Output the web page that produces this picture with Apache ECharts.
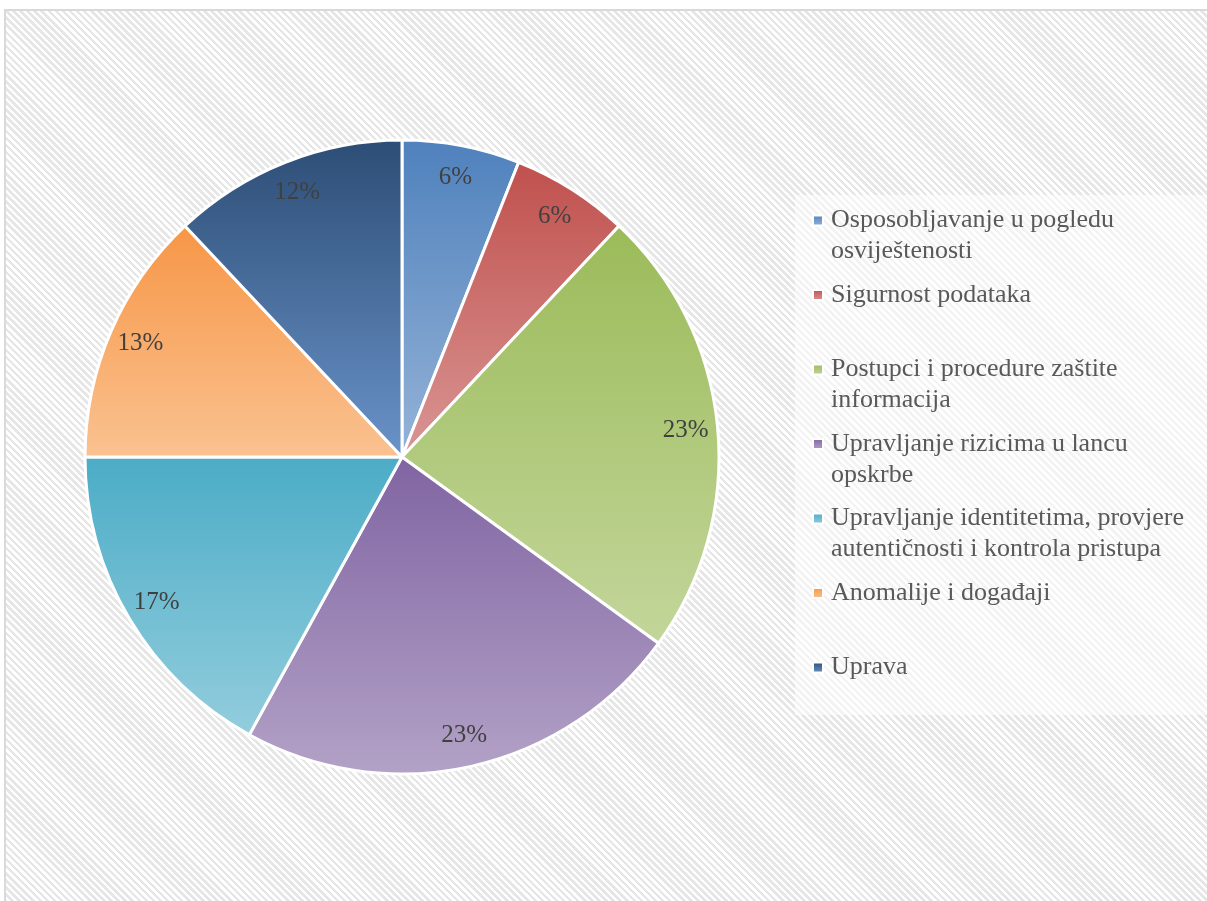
<!DOCTYPE html>
<html>
<head>
<meta charset="utf-8">
<script src="https://cdn.jsdelivr.net/npm/echarts@6/dist/echarts.min.js"></script>
<style>
    html, body { margin: 0; padding: 0; background: #fff; }
    #wrap { position: relative; width: 1207px; height: 901px; overflow: hidden; background: #fff; }
    #bg {
        position: absolute; left: 4px; top: 9px; width: 1220px; height: 910px;
        border-left: 2px solid #d9d9d9; border-top: 2px solid #d9d9d9;
        background: repeating-linear-gradient(45deg, #ffffff 0px, #ffffff 2.5px, #e6e6e6 2.5px, #e6e6e6 5px);
    }
    #main { position: absolute; left: 0; top: 0; width: 1207px; height: 901px; }
</style>
</head>
<body>
<div id="wrap">
    <div id="bg"></div>
    <div id="main"></div>
</div>
<script>
// kategorije
const categories = [
    "Osposobljavanje u pogledu osviještenosti",
    "Sigurnost podataka",
    "Postupci i procedure zaštite informacija",
    "Upravljanje rizicima u lancu opskrbe",
    "Upravljanje identitetima, provjere autentičnosti i kontrola pristupa",
    "Anomalije i događaji",
    "Uprava"
];
// udio u postocima
const shares = [6, 6, 23, 23, 17, 13, 12];
// tekst legende s prijelomom reda
const legendText = [
    "Osposobljavanje u pogledu\nosviještenosti",
    "Sigurnost podataka",
    "Postupci i procedure zaštite\ninformacija",
    "Upravljanje rizicima u lancu\nopskrbe",
    "Upravljanje identitetima, provjere\nautentičnosti i kontrola pristupa",
    "Anomalije i događaji",
    "Uprava"
];

const topColors = ["#4F81BD", "#C0504D", "#9BBB59", "#8064A2", "#4BACC6", "#F79646", "#2C4D75"];
const bottomColors = ["#95B3D7", "#D99694", "#C3D69B", "#B3A2C7", "#93CDDD", "#FAC291", "#6A93C9"];

let pieData = [];
let labelData = [];
for (let i = 0; i < categories.length; i++) {
    pieData.push({
        name: categories[i],
        value: shares[i],
        itemStyle: {
            color: {
                type: "linear", x: 0, y: 0, x2: 0, y2: 1,
                colorStops: [
                    {offset: 0, color: topColors[i]},
                    {offset: 1, color: bottomColors[i]}
                ]
            }
        }
    });
    labelData.push({name: categories[i], value: shares[i]});
}

// svaka stavka legende ima tri retka, ikona stoji uz prvi redak teksta
function legendLines(name) {
    let t = legendText[categories.indexOf(name)];
    if (t.indexOf("\n") < 0) {
        t = t + "\n ";
    }
    return " \n" + t;
}

const chart = echarts.init(document.getElementById("main"));
const option = {
    animation: false,
    backgroundColor: "transparent",
    graphic: [{
        type: "rect",
        z: -1,
        shape: {x: 795, y: 195, width: 420, height: 520},
        style: {fill: "rgba(255,255,255,0.5)"}
    }],
    legend: {
        orient: "vertical",
        left: 812,
        top: 174,
        padding: 0,
        itemGap: -18.5,
        itemWidth: 10,
        itemHeight: 10,
        icon: "rect",
        data: categories,
        formatter: legendLines,
        textStyle: {
            fontFamily: "Liberation Serif",
            fontSize: 26,
            lineHeight: 31,
            color: "#595959",
            padding: [0, 0, 0, 3]
        }
    },
    series: [
        {
            name: "udio",
            type: "pie",
            center: [402, 457],
            radius: [0, 317],
            startAngle: 90,
            clockwise: true,
            silent: true,
            itemStyle: {
                borderColor: "#ffffff",
                borderWidth: 3
            },
            label: {show: false},
            labelLine: {show: false},
            data: pieData
        },
        {
            // prozirni prsten samo za položaj oznaka
            name: "oznake",
            type: "pie",
            center: [402, 457],
            radius: [248, 316],
            startAngle: 90,
            clockwise: true,
            silent: true,
            itemStyle: {color: "rgba(0,0,0,0)", borderWidth: 0},
            label: {
                show: true,
                position: "inside",
                formatter: "{c}%",
                fontFamily: "Liberation Serif",
                fontSize: 25,
                color: "#404040"
            },
            labelLine: {show: false},
            data: labelData
        }
    ]
};
chart.setOption(option);
</script>
</body>
</html>
